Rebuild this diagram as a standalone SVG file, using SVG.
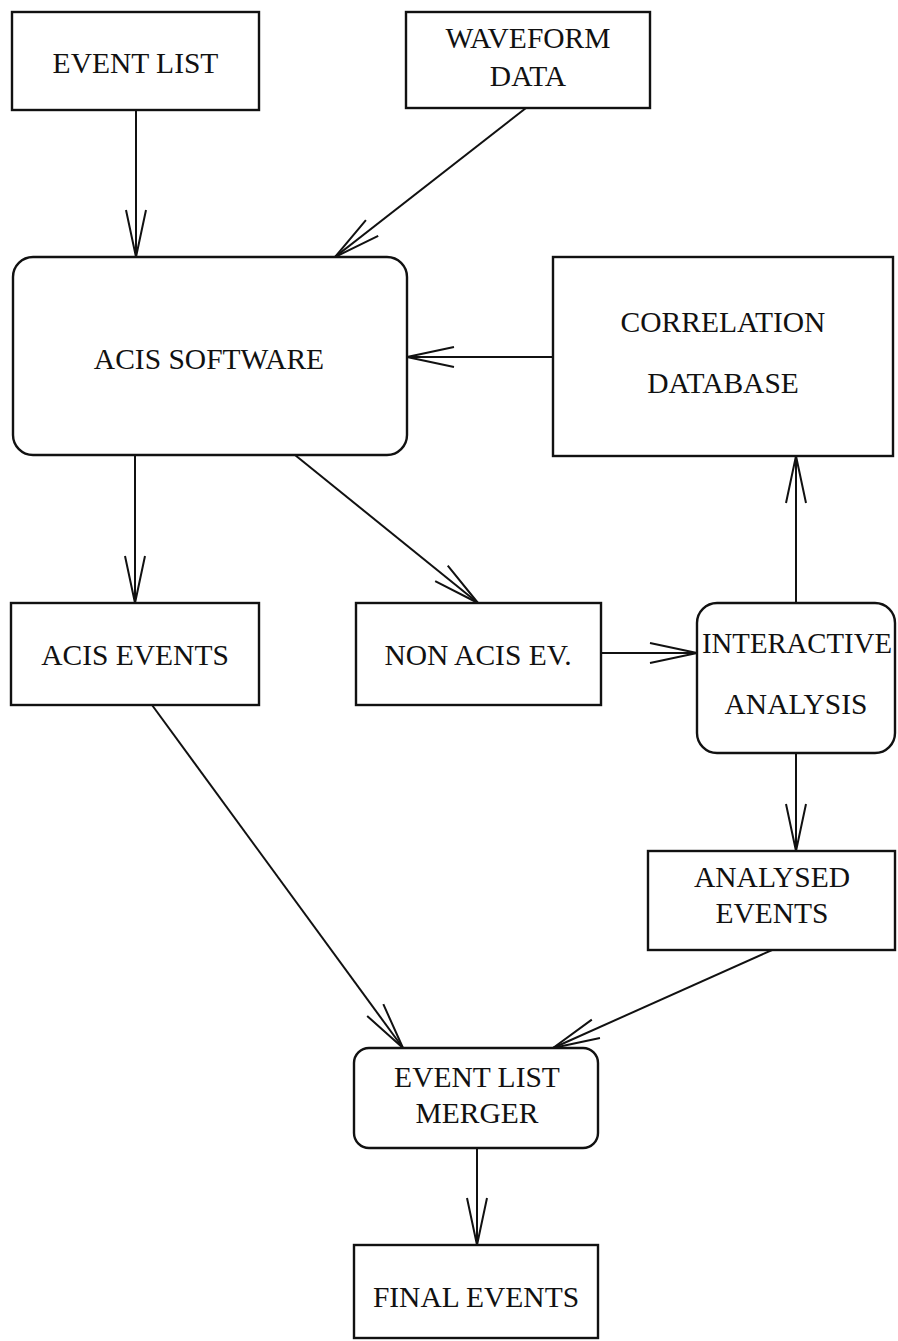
<svg xmlns="http://www.w3.org/2000/svg" width="898" height="1341" viewBox="0 0 898 1341">
  <style>
    .box { fill: #ffffff; stroke: #111111; stroke-width: 2.4; }
    .lbl { font-family: "Liberation Serif", "Times New Roman", serif; font-size: 29.5px; fill: #111111; text-anchor: middle; }
    .edge { fill: none; stroke: #111111; stroke-width: 2; marker-end: url(#vee); }
  </style>
  <defs>
    <!-- open V arrowhead, fixed size in user units -->
    <marker id="vee" markerUnits="userSpaceOnUse" markerWidth="60" markerHeight="30" refX="0" refY="0" viewBox="-50 -15 60 30" orient="auto" overflow="visible">
      <path d="M -47 -10 L 0 0 L -47 10" fill="none" stroke="#111111" stroke-width="2"/>
    </marker>
  </defs>
  <rect width="898" height="1341" fill="#ffffff"/>

  <g id="connectors">
    <line class="edge" x1="136" y1="110" x2="136" y2="257"/>
    <line class="edge" x1="526" y1="108" x2="335" y2="257"/>
    <line class="edge" x1="553" y1="357" x2="407" y2="357"/>
    <line class="edge" x1="135" y1="455" x2="135" y2="603"/>
    <line class="edge" x1="295" y1="455" x2="478" y2="603"/>
    <line class="edge" x1="796" y1="603" x2="796" y2="456"/>
    <line class="edge" x1="601" y1="653" x2="697" y2="653"/>
    <line class="edge" x1="796" y1="753" x2="796" y2="851"/>
    <line class="edge" x1="152" y1="705" x2="403" y2="1048"/>
    <line class="edge" x1="772" y1="950" x2="553" y2="1048"/>
    <line class="edge" x1="477" y1="1148" x2="477" y2="1245"/>
  </g>

  <g id="event-list">
    <rect class="box" x="12" y="12" width="247" height="98"/>
    <text class="lbl" x="135.5" y="73">EVENT LIST</text>
  </g>
  <g id="waveform-data">
    <rect class="box" x="406" y="12" width="244" height="96"/>
    <text class="lbl" x="528" y="48">WAVEFORM</text>
    <text class="lbl" x="528" y="86">DATA</text>
  </g>
  <g id="acis-software">
    <rect class="box" x="13" y="257" width="394" height="198" rx="20" ry="20"/>
    <text class="lbl" x="209" y="369">ACIS SOFTWARE</text>
  </g>
  <g id="correlation-database">
    <rect class="box" x="553" y="257" width="340" height="199"/>
    <text class="lbl" x="723" y="332">CORRELATION</text>
    <text class="lbl" x="723" y="393">DATABASE</text>
  </g>
  <g id="acis-events">
    <rect class="box" x="11" y="603" width="248" height="102"/>
    <text class="lbl" x="135" y="665">ACIS EVENTS</text>
  </g>
  <g id="non-acis-events">
    <rect class="box" x="356" y="603" width="245" height="102"/>
    <text class="lbl" x="478" y="665">NON ACIS EV.</text>
  </g>
  <g id="interactive-analysis">
    <rect class="box" x="697" y="603" width="198" height="150" rx="20" ry="20"/>
    <text class="lbl" x="797" y="653" textLength="190" lengthAdjust="spacingAndGlyphs">INTERACTIVE</text>
    <text class="lbl" x="796" y="714">ANALYSIS</text>
  </g>
  <g id="analysed-events">
    <rect class="box" x="648" y="851" width="247" height="99"/>
    <text class="lbl" x="772" y="887">ANALYSED</text>
    <text class="lbl" x="772" y="923">EVENTS</text>
  </g>
  <g id="event-list-merger">
    <rect class="box" x="354" y="1048" width="244" height="100" rx="15" ry="15"/>
    <text class="lbl" x="477" y="1087">EVENT LIST</text>
    <text class="lbl" x="477" y="1123">MERGER</text>
  </g>
  <g id="final-events">
    <rect class="box" x="354" y="1245" width="244" height="93"/>
    <text class="lbl" x="476" y="1307">FINAL EVENTS</text>
  </g>
</svg>
